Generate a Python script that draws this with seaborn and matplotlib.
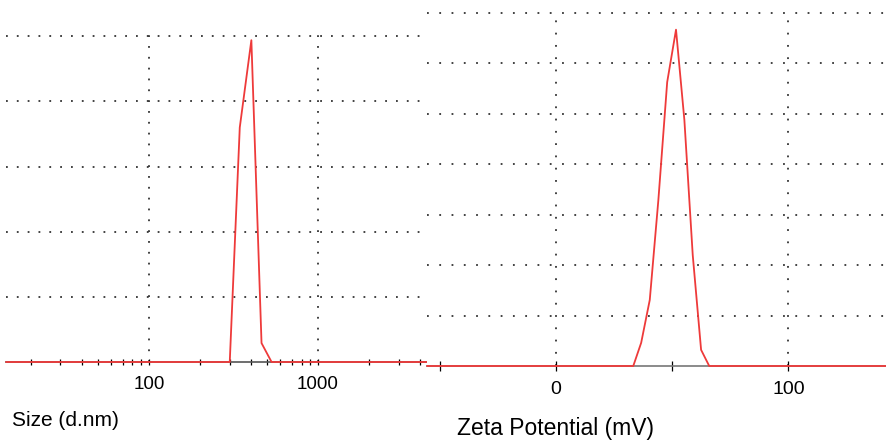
import matplotlib
matplotlib.use("Agg")
import matplotlib.pyplot as plt
import matplotlib.ticker as mticker
import seaborn as sns
import pandas as pd

# Valores
size_nm = [14.3, 301, 345, 404, 464, 532, 4470]
size_intensity = [0, 0, 3.60, 4.94, 0.29, 0, 0]

zeta_mv = [-55.6, 33.2, 36.6, 40.3, 44.0, 47.8, 51.6, 55.2, 58.8, 62.4, 65.9, 150]
zeta_counts = [0, 0, 0.46, 1.31, 3.29, 5.63, 6.67, 4.88, 2.20, 0.32, 0, 0]

size_ticks = [100, 1000]
size_tick_labels = ["100", "1000"]
zeta_ticks = [0, 100]
zeta_minor_ticks = [-50, 50]
zeta_tick_labels = ["0", "100"]

sns.set_style("white")
plt.rcParams["font.family"] = ["Liberation Sans", "DejaVu Sans"]
plt.rcParams["text.color"] = "black"
plt.rcParams["xtick.color"] = "black"

df_size = pd.DataFrame({"size": size_nm, "intensity": size_intensity})
df_zeta = pd.DataFrame({"zeta": zeta_mv, "counts": zeta_counts})

W, H = 886, 440
fig = plt.figure(figsize=(W / 100, H / 100), dpi=100)

red = "#ee3a3a"
grid_color = "#333333"

# Painel esquerdo: tamanho
ax1 = fig.add_axes([6 / W, (H - 362) / H, 422 / W, 329 / H])
sns.lineplot(data=df_size, x="size", y="intensity", ax=ax1, color=red,
             linewidth=1.3, clip_on=False, zorder=5)
ax1.set_xscale("log")
ax1.set_xlim(14.3, 4477)
ax1.set_ylim(0, 5.05)
ax1.xaxis.set_major_locator(mticker.FixedLocator(size_ticks))
ax1.xaxis.set_major_formatter(mticker.FixedFormatter(size_tick_labels))
ax1.xaxis.set_minor_locator(mticker.LogLocator(base=10, subs=range(2, 10)))
ax1.xaxis.set_minor_formatter(mticker.NullFormatter())
ax1.set_yticks([1, 2, 3, 4, 5])
ax1.set_yticklabels([])
ax1.tick_params(axis="y", length=0)
ax1.tick_params(axis="x", which="both", bottom=True, direction="inout",
                length=3.8, width=0.9, color="black", labelcolor="black",
                labelsize=13.5, pad=8.5)
ax1.grid(True, which="major", color=grid_color, linewidth=1.3,
         linestyle=(0, (1, 5.0)))
ax1.grid(False, which="minor")
for s in ["left", "right", "top"]:
    ax1.spines[s].set_visible(False)
ax1.spines["bottom"].set_color("#555555")
ax1.spines["bottom"].set_linewidth(1.2)
ax1.set_xlabel("")
ax1.set_ylabel("")

# Painel direito: potencial zeta
ax2 = fig.add_axes([427 / W, (H - 366) / H, (W - 427) / W, 356 / H])
sns.lineplot(data=df_zeta, x="zeta", y="counts", ax=ax2, color=red,
             linewidth=1.3, clip_on=False, zorder=5)
ax2.set_xlim(-55.6, 142)
ax2.set_ylim(0, 7.06)
ax2.set_xticks(zeta_ticks)
ax2.set_xticklabels(zeta_tick_labels)
ax2.set_xticks(zeta_minor_ticks, minor=True)
ax2.set_yticks([1, 2, 3, 4, 5, 6, 7])
ax2.set_yticklabels([])
ax2.tick_params(axis="y", length=0)
ax2.tick_params(axis="x", which="both", bottom=True, direction="inout",
                length=7.2, width=0.9, color="black", labelcolor="black",
                labelsize=14, pad=7.2)
ax2.grid(True, which="major", color=grid_color, linewidth=1.3,
         linestyle=(0, (1, 5.8)))
ax2.grid(False, which="minor")
for s in ["left", "right", "top"]:
    ax2.spines[s].set_visible(False)
ax2.spines["bottom"].set_color("#777777")
ax2.spines["bottom"].set_linewidth(1.2)
ax2.set_xlabel("")
ax2.set_ylabel("")

fig.text(12 / W, 20 / H, "Size (d.nm)", fontsize=15, va="center", ha="left")
fig.text(457 / W, 12 / H, "Zeta Potential (mV)", fontsize=16.5,
         va="center", ha="left")

fig.savefig("out.png", dpi=100)
